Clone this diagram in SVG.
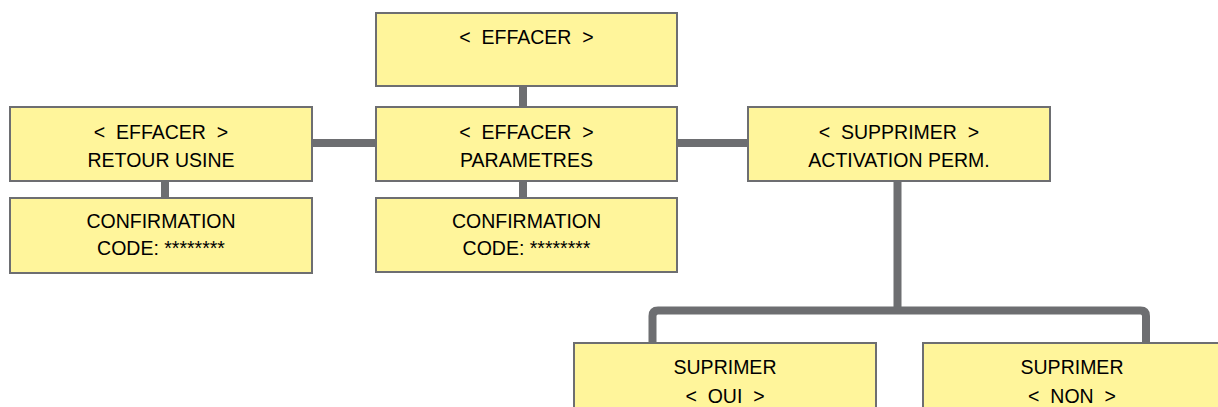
<svg xmlns="http://www.w3.org/2000/svg" width="1218" height="407" viewBox="0 0 1218 407">
  <style>
    .box { fill: #FFF59B; stroke: #6D6E71; stroke-width: 2; }
    .lbl { font-family: "Liberation Sans", Arial, sans-serif; font-size: 19.5px; fill: #000000; text-anchor: middle; }
    .conn { fill: none; stroke: #6D6E71; stroke-width: 8; stroke-linejoin: round; }
  </style>
  <rect width="1218" height="407" fill="#FFFFFF"/>
  <g id="connectors">
    <line class="conn" x1="523" y1="86" x2="523" y2="107"/>
    <line class="conn" x1="312" y1="143" x2="376" y2="143"/>
    <line class="conn" x1="677" y1="143" x2="748" y2="143"/>
    <line class="conn" x1="165" y1="181" x2="165" y2="198"/>
    <line class="conn" x1="523" y1="181" x2="523" y2="198"/>
    <line class="conn" x1="897.5" y1="181" x2="897.5" y2="311"/>
    <path class="conn" d="M652.5,343 V316 Q652.5,310.5 658,310.5 H1140.5 Q1146,310.5 1146,316 V343"/>
  </g>
  <g id="n-effacer">
    <rect class="box" x="376" y="13" width="301" height="73"/>
    <text class="lbl" x="526.5" y="44" xml:space="preserve">&lt;  EFFACER  &gt;</text>
  </g>
  <g id="n-retour-usine">
    <rect class="box" x="10" y="107" width="302" height="74"/>
    <text class="lbl" x="161" y="139" xml:space="preserve">&lt;  EFFACER  &gt;</text>
    <text class="lbl" x="161" y="167">RETOUR USINE</text>
  </g>
  <g id="n-parametres">
    <rect class="box" x="376" y="107" width="301" height="74"/>
    <text class="lbl" x="526.5" y="139" xml:space="preserve">&lt;  EFFACER  &gt;</text>
    <text class="lbl" x="526.5" y="167">PARAMETRES</text>
  </g>
  <g id="n-supprimer">
    <rect class="box" x="748" y="107" width="302" height="74"/>
    <text class="lbl" x="899" y="139" xml:space="preserve">&lt;  SUPPRIMER  &gt;</text>
    <text class="lbl" x="899" y="167">ACTIVATION PERM.</text>
  </g>
  <g id="n-confirm-left">
    <rect class="box" x="10" y="198" width="302" height="75"/>
    <text class="lbl" x="161" y="228">CONFIRMATION</text>
    <text class="lbl" x="161" y="255">CODE: ********</text>
  </g>
  <g id="n-confirm-center">
    <rect class="box" x="376" y="198" width="301" height="74"/>
    <text class="lbl" x="526.5" y="228">CONFIRMATION</text>
    <text class="lbl" x="526.5" y="255">CODE: ********</text>
  </g>
  <g id="n-oui">
    <rect class="box" x="574" y="343" width="302" height="80"/>
    <text class="lbl" x="725" y="374">SUPRIMER</text>
    <text class="lbl" x="725" y="403" xml:space="preserve">&lt;  OUI  &gt;</text>
  </g>
  <g id="n-non">
    <rect class="box" x="923" y="343" width="302" height="80"/>
    <text class="lbl" x="1072" y="374">SUPRIMER</text>
    <text class="lbl" x="1072" y="403" xml:space="preserve">&lt;  NON  &gt;</text>
  </g>
</svg>
